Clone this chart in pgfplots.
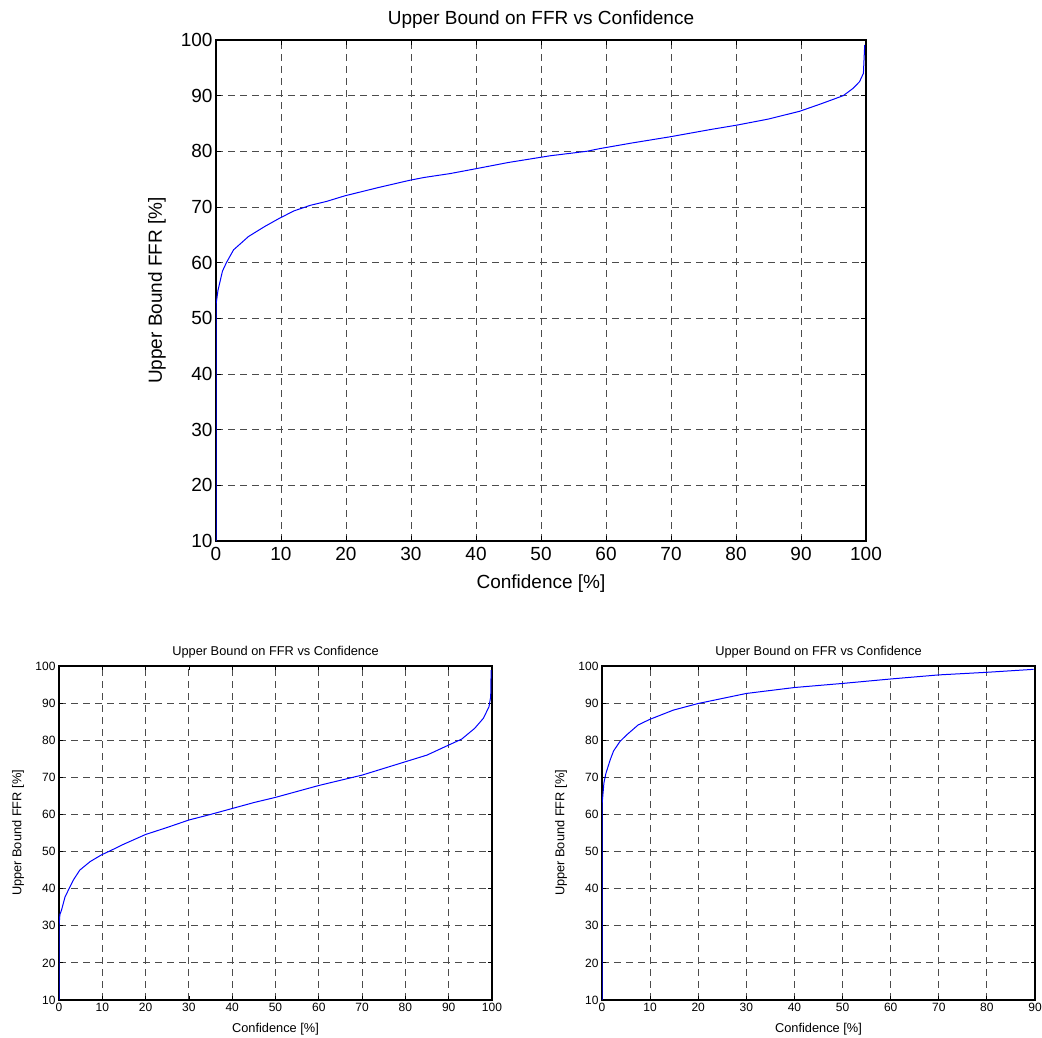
\documentclass[border=0pt]{standalone}
\usepackage{fontspec}
\setmainfont{Liberation Sans}
\usepackage{pgfplots}
\pgfplotsset{compat=1.18}
\begin{document}
\begin{tikzpicture}
\path[use as bounding box] (0,0) rectangle (1042pt,1038pt);
\pgfplotsset{
  matlab/.style={
    scale only axis,
    xmin=0, ymin=10, ymax=100,
    ytick={10,20,...,100},
    grid=major,
    major grid style={black!70, dash pattern=on 7pt off 5pt, line width=0.9pt},
    axis line style={line width=1.2pt, black},
    tick align=inside,
    major tick length=5pt,
    tick style={black, line width=0.8pt},
    /pgf/number format/assume math mode=true,
    title={Upper Bound on FFR vs Confidence},
    xlabel={Confidence [\%]},
    ylabel={Upper Bound FFR [\%]},
  },
  curve/.style={blue, line width=1pt, no marks},
}
% ---------------- top ----------------
\begin{axis}[matlab,
  at={(216pt,497pt)}, anchor=south west,
  width=650pt, height=501pt,
  xmax=100, xtick={0,10,...,100},
  ticklabel style={font=\fontsize{19}{19}\selectfont},
  label style={font=\fontsize{19}{19}\selectfont},
  title style={font=\fontsize{19}{19}\selectfont, at={(axis description cs:0.5,1)}, anchor=center, yshift=14pt},
  xlabel style={at={(axis description cs:0.5,0)}, anchor=center, yshift=-43pt},
  ylabel style={at={(axis description cs:0,0.5)}, anchor=center, yshift=59pt},
  xticklabel style={yshift=-3pt},
]
\addplot[curve] coordinates {
(0,10) (0,52.4) (0.3,55) (0.6,56.5) (1,58.5) (1.6,60) (2.7,62.3) (5,64.7) (7.5,66.5) (9.8,68)
(12,69.3) (14.5,70.3) (17,71) (19.8,72) (25,73.5) (29.8,74.8) (32,75.3) (36,76) (40.1,76.9) (45,78)
(51.4,79.2) (57,80) (59.1,80.5) (64,81.5) (69.8,82.6) (76,83.9) (80.1,84.7) (85,85.8)
(89.8,87.2) (93,88.5) (96.5,90) (98,91.3) (99,92.5) (99.6,94) (99.8,99.1)
};
\end{axis}
% ---------------- bottom left ----------------
\begin{axis}[matlab,
  at={(59pt,38pt)}, anchor=south west,
  width=433pt, height=334pt,
  xmax=100, xtick={0,10,...,100},
  ticklabel style={font=\fontsize{12}{12}\selectfont},
  label style={font=\fontsize{12.8}{12.8}\selectfont},
  title style={font=\fontsize{12.8}{12.8}\selectfont, at={(axis description cs:0.5,1)}, anchor=center, yshift=8pt},
  xlabel style={at={(axis description cs:0.5,0)}, anchor=center, yshift=-29pt},
  ylabel style={at={(axis description cs:0,0.5)}, anchor=center, yshift=41pt},
  major tick length=4pt,
]
\addplot[curve] coordinates {
(0,10) (0,29.7) (0.2,33) (0.6,34.3) (1.4,37.8) (3.3,42.3) (4.8,45) (7.2,47.3) (9.8,49.1)
(12,50.3) (14.8,51.9) (20,54.6) (25,56.5) (30,58.5) (35,60) (40,61.6) (45,63.2) (50,64.6)
(60,67.8) (70,70.6) (80,74.2) (85,76) (90,78.7) (93,80.3) (96,83.2) (98,85.9) (99.3,89)
(99.7,91.7) (99.8,98.9)
};
\end{axis}
% ---------------- bottom right ----------------
\begin{axis}[matlab,
  at={(602pt,38pt)}, anchor=south west,
  width=433pt, height=334pt,
  xmax=90, xtick={0,10,...,90},
  ticklabel style={font=\fontsize{12}{12}\selectfont},
  label style={font=\fontsize{12.8}{12.8}\selectfont},
  title style={font=\fontsize{12.8}{12.8}\selectfont, at={(axis description cs:0.5,1)}, anchor=center, yshift=8pt},
  xlabel style={at={(axis description cs:0.5,0)}, anchor=center, yshift=-29pt},
  ylabel style={at={(axis description cs:0,0.5)}, anchor=center, yshift=41pt},
  major tick length=4pt,
]
\addplot[curve] coordinates {
(0,10) (0,62.5) (0.4,68.5) (0.8,71) (1.7,74.7) (2.4,77.1) (3.7,79.6) (5.1,81.4) (7.5,84.1)
(9.9,85.6) (14.8,88.1) (20,89.9) (30,92.6) (40,94.2) (50,95.3) (60,96.5) (70,97.6)
(80,98.3) (89.7,99.1)
};
\end{axis}
\end{tikzpicture}
\end{document}
